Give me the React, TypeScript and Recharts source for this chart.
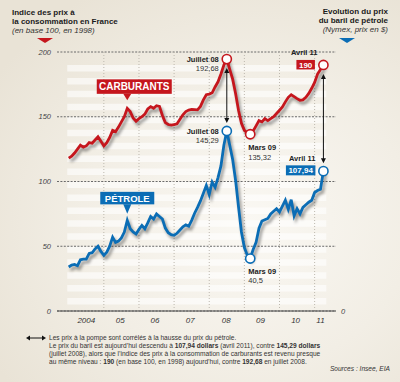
import React from 'react';
import { ComposedChart, Line, XAxis, YAxis, CartesianGrid, ReferenceLine, ReferenceArea, ReferenceDot } from 'recharts';

// Monthly values, Jan 2004 (index 0) to Apr 2011 (index 87)
const carburants = [
  118, 119.5, 122, 125, 128, 126.5, 127.5, 130, 129.5, 132, 134.5, 131,
  127.5, 130, 134, 139.5, 138.5, 142, 146, 150, 156.5, 154, 149, 146.5,
  148.5, 150, 152, 156, 157.8, 156.5, 158.5, 158, 151, 145.5, 144, 143.5,
  144, 144.5, 148, 151.5, 154, 155.2, 155.7, 155.5, 155.3, 158, 163, 167,
  167.5, 168.5, 173, 177, 183, 190, 194.5, 186.5, 179, 168, 155, 145,
  139.5, 137.5, 136.5, 139, 143, 147, 146, 148.5, 147, 148.5, 150, 152.5,
  155, 157.5, 161.5, 165, 167, 165.5, 164, 162.7, 163, 165, 168, 172,
  176.5, 183, 186.5, 190,
];
const petrole = [
  34, 35.5, 36, 35, 39.5, 40, 40, 44.5, 45, 48, 50, 46,
  43, 45.5, 50, 57, 53, 54, 56.5, 61, 70, 63.5, 61, 59.5,
  63, 66, 63.5, 68, 73, 71, 75, 73, 71, 64, 60.5, 59,
  58.5, 60, 62.5, 65, 66.5, 65.5, 70, 75.5, 80, 85, 91, 97,
  90, 99.5, 95.5, 103, 112, 128, 139, 128, 117, 101, 80.5, 61,
  49, 43, 40.5, 47.5, 53, 64, 69.5, 70.5, 71.5, 75, 77, 79,
  76.5, 81, 85.5, 78.5, 86, 73.5, 79, 75, 80, 82, 84, 85.5,
  91.5, 93, 94, 108,
];
const monthIndex = carburants.map((_, i) => i);

const yearLabels = ['2004', '05', '06', '07', '08', '09', '10', '11'];
const yearLabelPos = [6, 17.6, 29.5, 41.5, 53.8, 65.5, 77.5, 86];
const yearStarts = [12, 24, 36, 48, 60, 72, 84];
const valueTicks = [50, 100, 150, 200];
const zeroTick = 0;
const xMin = -4;
const xMax = 91.3;
const stripeBands = [5, 15, 25, 35, 45, 55, 65, 75, 85, 95, 105, 115, 125, 135, 145, 155, 165, 175, 185];

const peakMonth = 54;
const troughMonth = 62;
const lastMonth = 87;
const peakLabel = 'Juillet 08';
const troughLabel = 'Mars 09';
const lastLabel = 'Avril 11';
const carbPeakText = '192,68';
const petPeakText = '145,29';
const carbTroughText = '135,32';
const petTroughText = '40,5';
const carbLastText = '190';
const petLastText = '107,94';
const tagMonth = 20;

const data = monthIndex.map((m) => ({ m, carburants: carburants[m], petrole: petrole[m] }));

const FONT = '"Liberation Sans", Arial, Helvetica, sans-serif';
const RED = '#c5161d';
const BLUE = '#0b6db5';

const css = `
.shadowed .recharts-line-curve { filter: drop-shadow(2px 3px 1.8px rgba(0,0,0,0.4)); }
`;

const Marker = ({ cx, cy, color }: any) => (
  <circle cx={cx} cy={cy} r={4.6} fill="#fff" stroke={color} strokeWidth={1.6} />
);

const Arrow = (p: any) => {
  const x = p.x1;
  const ya = Math.min(p.y1, p.y2) + 9;
  const yb = Math.max(p.y1, p.y2) - 8;
  return (
    <g>
      <line x1={x} y1={ya + 2} x2={x} y2={yb - 2} stroke="#111" strokeWidth={1} />
      <polygon points={`${x - 2.5},${ya + 5} ${x + 2.5},${ya + 5} ${x},${ya}`} fill="#111" />
      <polygon points={`${x - 2.5},${yb - 5} ${x + 2.5},${yb - 5} ${x},${yb}`} fill="#111" />
    </g>
  );
};

const ValueTick = (anchor: 'start' | 'end') => (p: any) => (
  <text
    x={p.x}
    y={p.y}
    dy="0.35em"
    textAnchor={anchor}
    fontFamily={FONT}
    fontSize={7.5}
    fontStyle="italic"
    fill="#444"
  >
    {p.payload.value}
  </text>
);

const txtBold = { fontFamily: FONT, fontSize: 7.5, fontWeight: 700, fill: '#222' } as const;
const txtReg = { fontFamily: FONT, fontSize: 7.5, fill: '#333' } as const;
const zeroStyle = {
  position: 'absolute' as const,
  top: 306.5,
  fontSize: 7.5,
  lineHeight: '9px',
  fontStyle: 'italic' as const,
  color: '#444',
};

export default function App() {
  return (
    <div
      style={{
        position: 'absolute',
        left: 0,
        top: 0,
        width: 400,
        height: 382,
        overflow: 'hidden',
        fontFamily: FONT,
        background:
          'radial-gradient(ellipse 75% 70% at 62% 58%, #faf8f3 0%, #f2eee5 55%, #e9e3d6 100%)',
      }}
    >
      <style>{css}</style>
      <div style={{ position: 'absolute', left: 0, top: 0 }}>
        <ComposedChart width={400} height={382} data={data} margin={{ top: 52, right: 34, bottom: 51, left: 27 }}>
          {stripeBands.map((v) => (
            <ReferenceArea
              key={'s' + v}
              yAxisId="left"
              x1={-0.5}
              x2={88}
              y1={v}
              y2={v + 5}
              fill="#ffffff"
              fillOpacity={0.6}
              stroke="none"
              zIndex={-150}
            />
          ))}
          <CartesianGrid yAxisId="left" vertical={false} stroke="#6a6a6a" strokeDasharray="2 1.4" />
          {yearStarts.map((v) => (
            <ReferenceLine key={'y' + v} yAxisId="left" x={v} stroke="#bdb8ae" strokeDasharray="1 2" zIndex={-90} />
          ))}
          <XAxis
            dataKey="m"
            type="number"
            domain={[xMin, xMax]}
            ticks={yearLabelPos}
            interval={0}
            allowDataOverflow
            height={20}
            axisLine={{ stroke: '#4a4a4a', strokeWidth: 1.2 }}
            tickLine={false}
            tickSize={0}
            tickMargin={6}
            tickFormatter={(v: number) => yearLabels[yearLabelPos.indexOf(v)]}
            tick={{ fontSize: 8, fontStyle: 'italic', fill: '#333', fontFamily: FONT }}
          />
          <YAxis
            yAxisId="left"
            type="number"
            domain={[0, 200]}
            ticks={valueTicks}
            interval={0}
            width={30}
            axisLine={false}
            tickLine={false}
            tickSize={0}
            tickMargin={6}
            tick={ValueTick('end')}
          />
          <YAxis
            yAxisId="right"
            orientation="right"
            type="number"
            domain={[0, 200]}
            ticks={valueTicks}
            interval={0}
            width={30}
            axisLine={false}
            tickLine={false}
            tickSize={0}
            tickMargin={5}
            tick={ValueTick('start')}
          />
          <Line
            yAxisId="left"
            dataKey="carburants"
            stroke={RED}
            strokeWidth={2.8}
            dot={false}
            className="shadowed"
            isAnimationActive={false}
          />
          <Line
            yAxisId="left"
            dataKey="petrole"
            stroke={BLUE}
            strokeWidth={2.8}
            dot={false}
            className="shadowed"
            isAnimationActive={false}
          />
          <ReferenceLine
            yAxisId="left"
            segment={[{ x: peakMonth, y: carburants[peakMonth] }, { x: peakMonth, y: petrole[peakMonth] }]}
            shape={(p: any) => <Arrow {...p} />}
            zIndex={900}
          />
          <ReferenceLine
            yAxisId="left"
            segment={[{ x: lastMonth, y: carburants[lastMonth] }, { x: lastMonth, y: petrole[lastMonth] }]}
            shape={(p: any) => <Arrow {...p} />}
            zIndex={900}
          />
          {/* series tags */}
          <ReferenceDot
            yAxisId="left"
            x={tagMonth}
            y={carburants[tagMonth]}
            zIndex={1000}
            shape={(p: any) => (
              <g>
                <rect x={p.cx - 30.5} y={p.cy - 29} width={75} height={14.5} fill={RED} />
                <polygon points={`${p.cx - 4},${p.cy - 14.6} ${p.cx + 4},${p.cy - 14.6} ${p.cx},${p.cy - 8}`} fill={RED} />
                <text x={p.cx + 7} y={p.cy - 18.2} textAnchor="middle" fontFamily={FONT} fontSize={10} fontWeight={700} fill="#fff">
                  CARBURANTS
                </text>
              </g>
            )}
          />
          <ReferenceDot
            yAxisId="left"
            x={tagMonth}
            y={petrole[tagMonth]}
            zIndex={1000}
            shape={(p: any) => (
              <g>
                <rect x={p.cx - 27} y={p.cy - 28.5} width={54} height={12.5} fill={BLUE} />
                <polygon points={`${p.cx - 4},${p.cy - 16.1} ${p.cx + 4},${p.cy - 16.1} ${p.cx},${p.cy - 6.5}`} fill={BLUE} />
                <text x={p.cx} y={p.cy - 18.8} textAnchor="middle" fontFamily={FONT} fontSize={9.5} fontWeight={700} fill="#fff">
                  PÉTROLE
                </text>
              </g>
            )}
          />
          {/* peak markers */}
          <ReferenceDot
            yAxisId="left"
            x={peakMonth}
            y={carburants[peakMonth]}
            zIndex={1000}
            shape={(p: any) => (
              <g>
                <Marker cx={p.cx} cy={p.cy} color={RED} />
                <text x={p.cx - 8} y={p.cy + 2.6} textAnchor="end" {...txtBold}>{peakLabel}</text>
                <text x={p.cx - 8} y={p.cy + 11.8} textAnchor="end" {...txtReg}>{carbPeakText}</text>
              </g>
            )}
          />
          <ReferenceDot
            yAxisId="left"
            x={peakMonth}
            y={petrole[peakMonth]}
            zIndex={1000}
            shape={(p: any) => (
              <g>
                <Marker cx={p.cx} cy={p.cy} color={BLUE} />
                <text x={p.cx - 8} y={p.cy + 2.6} textAnchor="end" {...txtBold}>{peakLabel}</text>
                <text x={p.cx - 8} y={p.cy + 12.2} textAnchor="end" {...txtReg}>{petPeakText}</text>
              </g>
            )}
          />
          {/* trough markers */}
          <ReferenceDot
            yAxisId="left"
            x={troughMonth}
            y={carburants[troughMonth]}
            zIndex={1000}
            shape={(p: any) => (
              <g>
                <Marker cx={p.cx} cy={p.cy} color={RED} />
                <text x={p.cx - 2} y={p.cy + 15.5} textAnchor="start" {...txtBold}>{troughLabel}</text>
                <text x={p.cx - 2} y={p.cy + 26} textAnchor="start" {...txtReg}>{carbTroughText}</text>
              </g>
            )}
          />
          <ReferenceDot
            yAxisId="left"
            x={troughMonth}
            y={petrole[troughMonth]}
            zIndex={1000}
            shape={(p: any) => (
              <g>
                <Marker cx={p.cx} cy={p.cy} color={BLUE} />
                <text x={p.cx - 2} y={p.cy + 15.3} textAnchor="start" {...txtBold}>{troughLabel}</text>
                <text x={p.cx - 2} y={p.cy + 24.5} textAnchor="start" {...txtReg}>{petTroughText}</text>
              </g>
            )}
          />
          {/* last markers */}
          <ReferenceDot
            yAxisId="left"
            x={lastMonth}
            y={carburants[lastMonth]}
            zIndex={1000}
            shape={(p: any) => (
              <g>
                <Marker cx={p.cx} cy={p.cy} color={RED} />
                <text x={p.cx - 6} y={p.cy - 9.5} textAnchor="end" {...txtBold}>{lastLabel}</text>
                <rect x={p.cx - 27} y={p.cy - 5} width={18.5} height={9.5} fill={RED} />
                <text x={p.cx - 17.75} y={p.cy + 2.6} textAnchor="middle" fontFamily={FONT} fontSize={8} fontWeight={700} fill="#fff">
                  {carbLastText}
                </text>
              </g>
            )}
          />
          <ReferenceDot
            yAxisId="left"
            x={lastMonth}
            y={petrole[lastMonth]}
            zIndex={1000}
            shape={(p: any) => (
              <g>
                <Marker cx={p.cx} cy={p.cy} color={BLUE} />
                <text x={p.cx - 8} y={p.cy - 10.4} textAnchor="end" {...txtBold}>{lastLabel}</text>
                <rect x={p.cx - 37.5} y={p.cy - 5.8} width={29.5} height={10} fill={BLUE} />
                <text x={p.cx - 22.75} y={p.cy + 2} textAnchor="middle" fontFamily={FONT} fontSize={8} fontWeight={700} fill="#fff">
                  {petLastText}
                </text>
              </g>
            )}
          />
        </ComposedChart>
      </div>

      {/* bottom value labels of both scales */}
      <div style={{ ...zeroStyle, right: 349, textAlign: 'right' }}>{String(zeroTick)}</div>
      <div style={{ ...zeroStyle, left: 341 }}>{String(zeroTick)}</div>

      {/* left header */}
      <div style={{ position: 'absolute', left: 12, top: 7.5, fontSize: 8, lineHeight: '9px', color: '#1a1a1a', whiteSpace: 'nowrap' }}>
        <b>Indice des prix à</b>
        <br />
        <b>la consommation en France</b>
        <br />
        <i style={{ color: '#333' }}>(en base 100, en 1998)</i>
      </div>
      <svg style={{ position: 'absolute', left: 37, top: 37 }} width={17} height={7}>
        <polygon points="0,1 16,1 8,6" fill={RED} />
      </svg>

      {/* right header */}
      <div style={{ position: 'absolute', right: 12, top: 7.2, fontSize: 8, lineHeight: '9px', color: '#1a1a1a', textAlign: 'right', whiteSpace: 'nowrap' }}>
        <b>Evolution du prix</b>
        <br />
        <b>du baril de pétrole</b>
        <br />
        <i style={{ color: '#333' }}>(Nymex, prix en $)</i>
      </div>
      <svg style={{ position: 'absolute', left: 339, top: 37 }} width={17} height={7}>
        <polygon points="0,1 16,1 8,6" fill={BLUE} />
      </svg>

      {/* footer */}
      <svg style={{ position: 'absolute', left: 26, top: 334 }} width={20} height={8}>
        <line x1={3} y1={4} x2={17} y2={4} stroke="#111" strokeWidth={1} />
        <polygon points="0,4 4,1.5 4,6.5" fill="#111" />
        <polygon points="20,4 16,1.5 16,6.5" fill="#111" />
      </svg>
      <div style={{ position: 'absolute', left: 49, top: 333.8, fontSize: 6.6, lineHeight: '8.1px', color: '#333', whiteSpace: 'nowrap' }}>
        Les prix à la pompe sont corrélés à la hausse du prix du pétrole.
        <br />
        Le prix du baril est aujourd’hui descendu à <b>107,94 dollars</b> (avril 2011), contre <b>145,29 dollars</b>
        <br />
        (juillet 2008), alors que l’indice des prix à la consommation de carburants est revenu presque
        <br />
        au même niveau : <b>190</b> (en base 100, en 1998) aujourd’hui, contre <b>192,68</b> en juillet 2008.
      </div>
      <div style={{ position: 'absolute', right: 10, top: 365, fontSize: 6.6, lineHeight: '8px', color: '#333', fontStyle: 'italic', whiteSpace: 'nowrap' }}>
        Sources : Insee, EIA
      </div>
    </div>
  );
}
